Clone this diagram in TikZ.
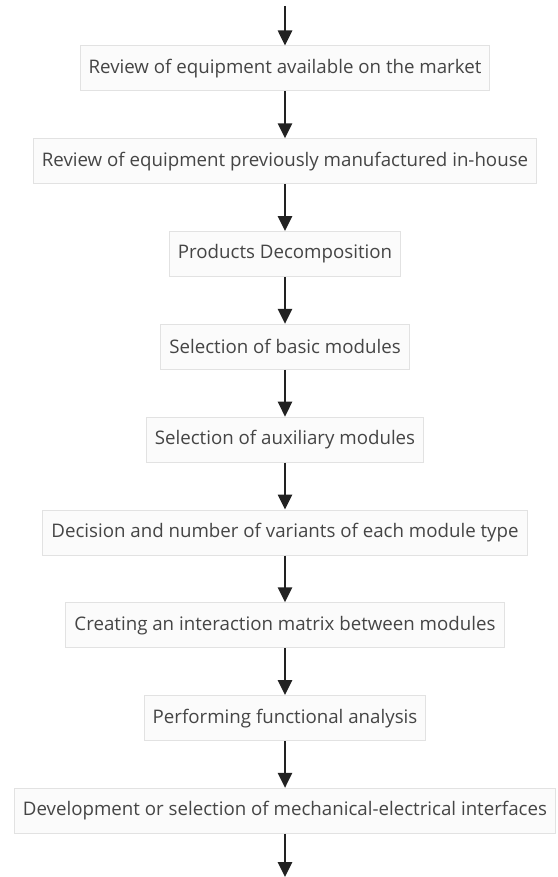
\documentclass[tikz,border=0pt]{standalone}
\usepackage{fontspec}
\newfontfamily\boxfont{Open Sans}
\usetikzlibrary{arrows.meta}
\definecolor{boxline}{HTML}{E2E2E2}
\definecolor{boxfill}{HTML}{FBFBFB}
\definecolor{boxtext}{HTML}{454545}
\definecolor{arrowc}{HTML}{222222}
\begin{document}
\begin{tikzpicture}[x=1pt,y=-1pt,
	box/.style={draw=boxline,fill=boxfill,line width=1pt,text=boxtext,inner xsep=8.5pt,minimum height=45pt,font=\boxfont\fontsize{18.7}{20}\selectfont},
	flow/.style={-{Triangle[width=14pt,length=15pt]},line width=2.6pt,arrowc}]
	\useasboundingbox (0,0) rectangle (557,877);
	% steps, top to bottom
	\foreach \t [count=\i] in {Review of equipment available on the market,
		Review of equipment previously manufactured in-house,
		Products Decomposition,
		Selection of basic modules,
		Selection of auxiliary modules,
		Decision and number of variants of each module type,
		Creating an interaction matrix between modules,
		Performing functional analysis,
		Development or selection of mechanical-electrical interfaces}
		\node[box] (b\i) at (285,{68.5+92.8*(\i-1)}) {\t};
	\coordinate (in) at (285,6);
	\coordinate (out) at (285,877);
	\draw[flow] (in) -- (b1);
	\foreach \i [evaluate=\i as \j using int(\i+1)] in {1,...,8}\draw[flow] (b\i) -- (b\j);
	\draw[flow] (b9) -- (out);
\end{tikzpicture}
\end{document}
